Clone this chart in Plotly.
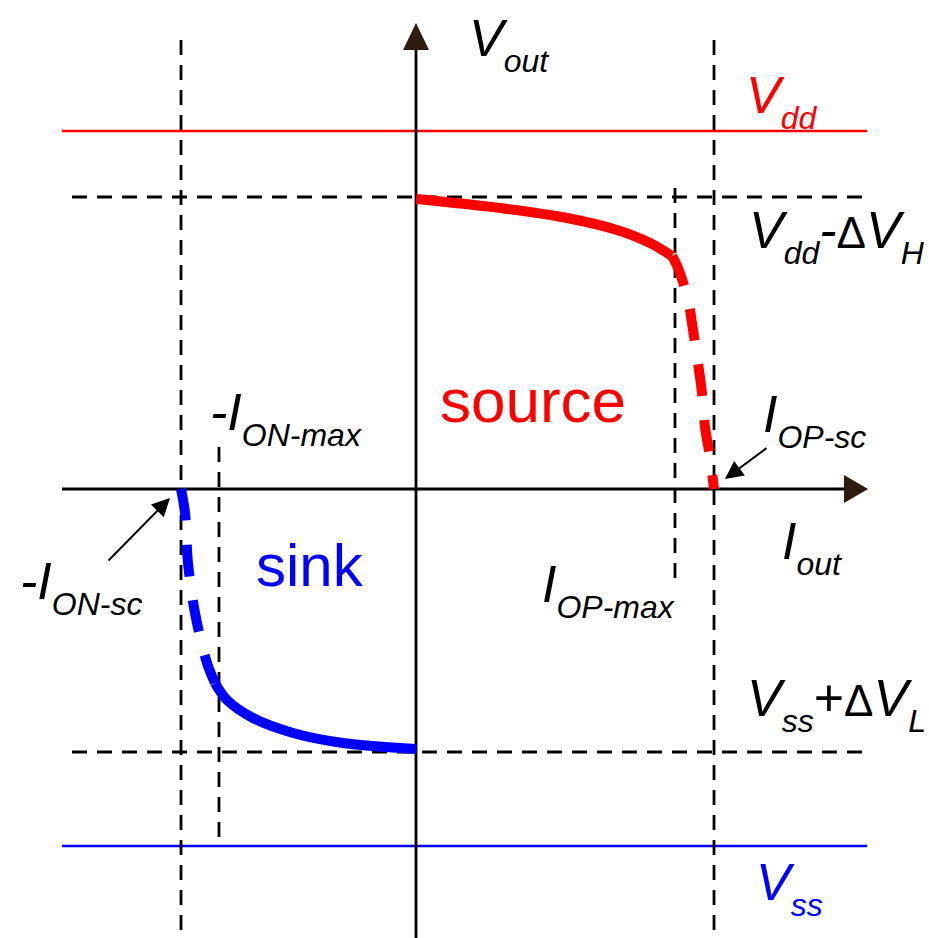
import plotly.graph_objects as go

# Characteristic levels (current axis: I_out, voltage axis: V_out)
I_ON_SC, I_ON_MAX = -2.35, -1.97
I_OP_MAX, I_OP_SC = 2.59, 2.98
V_DD, V_DD_H = 3.58, 2.92
V_SS_L, V_SS = -2.63, -3.57

# Source branch (regulated part, then current-limited part)
src_reg_i = [0.0, 0.84, 1.51, 2.01, 2.34, 2.56]
src_reg_v = [2.90, 2.81, 2.71, 2.59, 2.46, 2.33]
src_lim_i = [2.56, 2.62, 2.72, 2.77, 2.82, 2.86, 2.89, 2.94, 2.98]
src_lim_v = [2.33, 2.21, 1.89, 1.59, 1.26, 0.96, 0.62, 0.32, 0.0]

# Sink branch
snk_lim_i = [-2.35, -2.31, -2.28, -2.21, -2.09, -2.01]
snk_lim_v = [0.0, -0.24, -0.74, -1.24, -1.74, -1.94]
snk_reg_i = [-2.01, -1.89, -1.63, -1.23, -0.73, 0.0]
snk_reg_v = [-1.94, -2.11, -2.29, -2.44, -2.54, -2.60]

# Drawing extents
X_RANGE = [-4.16, 5.13]
Y_RANGE = [-4.49, 4.89]
AX_LEFT, AX_TIP = -3.54, 4.52
AY_TOP = 4.66
LINE_END = 4.51
DASH_START = -3.44
VDASH_TOP = 4.49

RED, BLUE, BLACK = "#ff0000", "#0000ff", "#000000"
HEAD = "#2e1a0e"
FONT = "Liberation Sans, Arial, sans-serif"

fig = go.Figure()

shapes = []


def seg(x0, y0, x1, y1, color, width, dash="solid"):
    shapes.append(dict(type="line", xref="x", yref="y", x0=x0, y0=y0, x1=x1, y1=y1,
                       line=dict(color=color, width=width, dash=dash), layer="below"))


thin_dash = "15px,10px"
# supply rails
seg(AX_LEFT, V_DD, LINE_END, V_DD, RED, 2.5)
seg(AX_LEFT, V_SS, LINE_END, V_SS, BLUE, 2.5)
# headroom levels
seg(DASH_START, V_DD_H, LINE_END, V_DD_H, BLACK, 2.8, thin_dash)
seg(DASH_START, V_SS_L, LINE_END, V_SS_L, BLACK, 2.8, thin_dash)
# current limits
seg(I_ON_SC, VDASH_TOP, I_ON_SC, Y_RANGE[0], BLACK, 2.8, thin_dash)
seg(I_OP_SC, VDASH_TOP, I_OP_SC, Y_RANGE[0], BLACK, 2.8, thin_dash)
seg(I_ON_MAX, 0.42, I_ON_MAX, -3.51, BLACK, 2.8, thin_dash)
seg(I_OP_MAX, 3.01, I_OP_MAX, -0.93, BLACK, 2.8, thin_dash)
# axes
seg(AX_LEFT, 0, AX_TIP - 0.2, 0, BLACK, 2.8)
seg(0, Y_RANGE[0], 0, AY_TOP - 0.2, BLACK, 2.8)

# axis arrowheads
hl, hw = 0.24, 0.14
shapes.append(dict(type="path", xref="x", yref="y", fillcolor=HEAD, line=dict(width=0),
                   path=f"M{AX_TIP},0 L{AX_TIP-hl},{hw} L{AX_TIP-hl},{-hw} Z"))
shapes.append(dict(type="path", xref="x", yref="y", fillcolor=HEAD, line=dict(width=0),
                   path=f"M0,{AY_TOP} L{hw - 0.01},{AY_TOP-0.27} L{-hw + 0.01},{AY_TOP-0.27} Z"))

# characteristic curves
fig.add_trace(go.Scatter(x=src_reg_i, y=src_reg_v, mode="lines",
                         line=dict(color=RED, width=10, shape="spline")))
fig.add_trace(go.Scatter(x=src_lim_i, y=src_lim_v, mode="lines",
                         line=dict(color=RED, width=10, shape="spline", dash="32px,24px")))
fig.add_trace(go.Scatter(x=snk_lim_i, y=snk_lim_v, mode="lines",
                         line=dict(color=BLUE, width=10, shape="spline", dash="32px,24px")))
fig.add_trace(go.Scatter(x=snk_reg_i, y=snk_reg_v, mode="lines",
                         line=dict(color=BLUE, width=10, shape="spline")))

annotations = []


def sub(t):
    return f"<sub><span style='font-size:32px;baseline-shift:-5px'>{t}</span></sub>"


DELTA = "<span style='font-size:44px'>\u0394</span>"


def label(x, y, text, color=BLACK, size=52, xanchor="left", yanchor="top"):
    annotations.append(dict(x=x, y=y, xref="x", yref="y", text=text, showarrow=False,
                            xanchor=xanchor, yanchor=yanchor,
                            font=dict(family=FONT, size=size, color=color)))


label(0.51, 4.82, "<i>V" + sub("out") + "</i>")
label(3.28, 4.25, "<i>V" + sub("dd") + "</i>", RED)
label(3.31, 2.90, "<i>V" + sub("dd") + "-</i>" + DELTA + "<i>V" + sub("H") + "</i>")
label(3.29, -1.78, "<i>V" + sub("ss") + "</i>+" + DELTA + "<i>V" + sub("L") + "</i>")
label(3.38, -3.62, "<i>V" + sub("ss") + "</i>", BLUE)
label(-2.08, 1.08, "<i>-I" + sub("ON-max") + "</i>")
label(3.45, 1.06, "<i>I" + sub("OP-sc") + "</i>")
label(-3.98, -0.61, "<i>-I" + sub("ON-sc") + "</i>")
label(3.64, -0.21, "<i>I" + sub("out") + "</i>")
label(1.24, -0.64, "<i>I" + sub("OP-max") + "</i>")
label(1.17, 0.89, "source", RED, 62, "center", "middle")
label(-1.06, -0.76, "sink", BLUE, 60, "center", "middle")


def pointer(x, y, ax, ay):
    annotations.append(dict(x=x, y=y, ax=ax, ay=ay, xref="x", yref="y", axref="x", ayref="y",
                            text="", showarrow=True, arrowhead=2, arrowsize=1.8,
                            arrowwidth=2, arrowcolor=BLACK, standoff=0))


pointer(-2.46, -0.09, -3.09, -0.73)
pointer(3.09, 0.10, 3.52, 0.42)

fig.update_layout(
    width=929, height=938,
    margin=dict(l=0, r=0, t=0, b=0),
    paper_bgcolor="white", plot_bgcolor="white",
    showlegend=False,
    xaxis=dict(range=X_RANGE, visible=False, fixedrange=True),
    yaxis=dict(range=Y_RANGE, visible=False, fixedrange=True),
    shapes=shapes,
    annotations=annotations,
)

fig.write_html("out.html", config=dict(displayModeBar=False))
